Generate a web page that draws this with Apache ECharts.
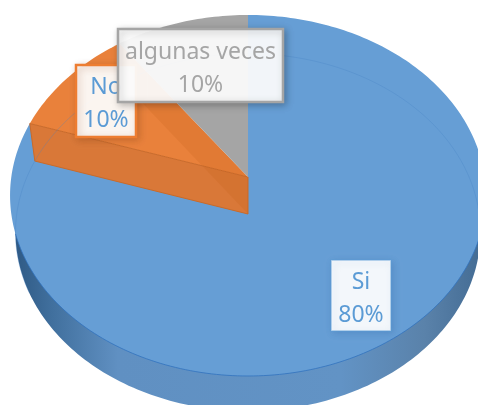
<!DOCTYPE html>
<html>
<head>
<meta charset="utf-8">
<title>Pie</title>
<script src="https://cdn.jsdelivr.net/npm/echarts@6/dist/echarts.min.js"></script>
<style>
  html, body { margin: 0; padding: 0; background: #fff; }
  #canvas-dom { width: 478px; height: 405px; }
</style>
</head>
<body>
<div id="canvas-dom"></div>
<script>
const categories = ["Si", "No", "algunas veces"];
const values = [80, 10, 10];

// colour per slice: top face
const topColors = ["#669ed5", "#e9813b", "#a5a5a5"];
const labelTextColors = ["#5b9bd5", "#5b9bd5", "#a5a5a5"];
const labelBorderColors = ["rgba(91,155,213,0.55)", "#ed7d31", "#a5a5a5"];
const labelShadowColors = ["rgba(50,100,160,0.3)", "rgba(120,60,20,0.3)", "rgba(0,0,0,0.25)"];
// label boxes, x y w h
const labelBoxes = [
  [331, 260, 60, 71],
  [76, 65, 60, 72],
  [118, 29, 165, 73],
];

// perspective of the tilted disc
const CX = 248;
const TOP_Y = 177;
const BOTTOM_Y = 214;
const RX = 236.7;
const RY = 178.6;
const K = 0.1025;
const BOTTOM_SX = 0.977;
const BOTTOM_SY = 0.99;

const total = values.reduce((a, b) => a + b, 0);
const toAngle = (v) => (v / total) * Math.PI * 2;

// angle is clockwise from 12 o'clock
const project = (angle, bottom) => {
  const u = Math.sin(angle);
  const v = -Math.cos(angle);
  const d = 1 - K * v;
  const x = (RX * u) / d;
  const y = (RY * v) / d;
  return bottom
    ? [CX + x * BOTTOM_SX, BOTTOM_Y + y * BOTTOM_SY]
    : [CX + x, TOP_Y + y];
};

const arc = (from, to, bottom) => {
  const pts = [];
  const steps = Math.max(2, Math.ceil(Math.abs(to - from) / 0.02));
  for (let i = 0; i <= steps; i++) {
    pts.push(project(from + ((to - from) * i) / steps, bottom));
  }
  return pts;
};

const sliceStart = (index) => toAngle(values.slice(0, index).reduce((a, b) => a + b, 0));

const renderSlice = (params, api) => {
  const i = params.dataIndex;
  const from = sliceStart(i);
  const to = from + toAngle(api.value(1));
  const apexTop = [CX, TOP_Y];
  const apexBottom = [CX, BOTTOM_Y];
  const children = [];

  if (i === 0) {
    // outer wall of the big slice
    children.push({
      type: "polygon",
      shape: { points: [apexBottom, ...arc(from, to, true)] },
      style: {
        fill: new echarts.graphic.LinearGradient(0, 0, 1, 0, [
          { offset: 0, color: "#2f5a85" },
          { offset: 0.08, color: "#41709e" },
          { offset: 0.22, color: "#6090c2" },
          { offset: 0.7, color: "#6293c5" },
          { offset: 0.88, color: "#5a82aa" },
          { offset: 1, color: "#446c94" },
        ]),
      },
    });
  }

  children.push({
    type: "polygon",
    shape: { points: [apexTop, ...arc(from, to, false)] },
    style: { fill: topColors[i] },
  });

  if (i === 0) {
    children.push({
      type: "polyline",
      shape: { points: arc(toAngle(total * 0.3), toAngle(total * 0.7), false) },
      style: { fill: null, stroke: "rgba(50,115,190,0.8)", lineWidth: 1 },
    });
  }

  if (i === 1) {
    // walls of the orange slice
    children.push({
      type: "polygon",
      shape: { points: [apexTop, project(from, false), project(from, true), apexBottom] },
      style: { fill: "#d97838", stroke: "#cb6a28", lineWidth: 1 },
    });
    children.push({
      type: "polygon",
      shape: { points: [apexTop, project(to, false), project(to, true), apexBottom] },
      style: { fill: "rgba(195,95,25,0.2)" },
    });
  }

  return { type: "group", children };
};

// back rim of the base, seen through the top face
const renderRim = () => ({
  type: "polyline",
  shape: { points: arc(toAngle(total * 0.68), toAngle(total * 1.26), true) },
  style: { fill: null, stroke: "rgba(70,130,195,0.3)", lineWidth: 1 },
});

const renderLabel = (params, api) => {
  const i = params.dataIndex;
  const [x, y, w, h] = labelBoxes[i];
  return {
    type: "group",
    children: [
      {
        type: "rect",
        shape: { x, y, width: w, height: h },
        style: {
          fill: "rgba(255,255,255,0.93)",
          stroke: labelBorderColors[i],
          lineWidth: i === 0 ? 1.5 : 2.5,
          shadowBlur: 7,
          shadowOffsetX: 2,
          shadowOffsetY: 2,
          shadowColor: labelShadowColors[i],
        },
      },
      {
        type: "text",
        style: {
          x: x + w / 2,
          y: y + h / 2 + 3,
          text: categories[i] + "\n" + api.value(1) + "%",
          fill: labelTextColors[i],
          font: '23px "Noto Sans"',
          lineHeight: 33,
          align: "center",
          verticalAlign: "middle",
        },
      },
    ],
  };
};

const sliceData = categories.map((name, i) => [name, values[i]]);

const chart = echarts.init(document.getElementById("canvas-dom"));
chart.setOption({
  animation: false,
  series: [
    { type: "custom", coordinateSystem: "none", z: 2, silent: true, renderItem: renderSlice, data: sliceData },
    { type: "custom", coordinateSystem: "none", z: 3, silent: true, renderItem: renderRim, data: [[total]] },
    { type: "custom", coordinateSystem: "none", z: 4, silent: true, renderItem: renderLabel, data: sliceData },
  ],
});
</script>
</body>
</html>
